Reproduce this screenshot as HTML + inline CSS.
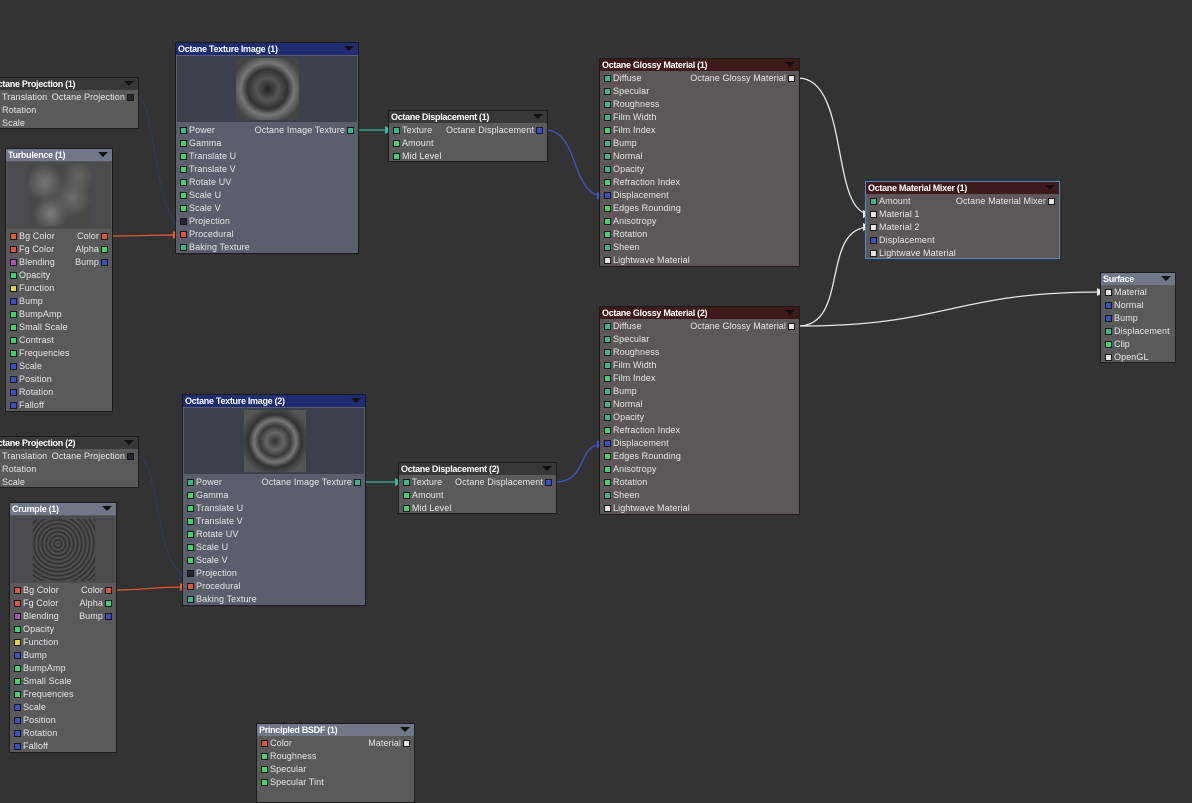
<!DOCTYPE html>
<html><head><meta charset="utf-8"><style>
*{margin:0;padding:0;box-sizing:border-box}
body{width:1192px;height:791px;background:#333334;overflow:hidden;position:relative;font-family:"Liberation Sans",sans-serif;font-size:9px;color:#e6e6e6}
.n{position:absolute;border:1px solid #1c1c1c;background:#5a5a5c}
.t{height:12px;line-height:12px;font-size:9px;font-weight:bold;padding-left:2px;color:#fff;white-space:nowrap;overflow:hidden;position:relative;letter-spacing:-0.3px}
.t:after{content:"";position:absolute;right:4px;top:3px;border-left:5px solid transparent;border-right:5px solid transparent;border-top:5px solid #111}
.rows{position:absolute;left:0;right:0}
.r{height:13px;line-height:13px;position:relative;padding-left:13px;white-space:nowrap;letter-spacing:0.1px}
.r i{position:absolute;left:4px;top:3px;width:7px;height:7px;border:1px solid #1a1a1a}
.r b{position:absolute;right:13px;top:0;font-weight:normal}
.r u{position:absolute;right:4px;top:3px;width:7px;height:7px;border:1px solid #1a1a1a}
.g{background:#3ab888}.G{background:#3fd56a}.R{background:#e0553c}.B{background:#3550c8}.W{background:#e4e4e4}.Y{background:#e2d23e}.P{background:#b04cc0}.K{background:#262630}
.tex{background:#5b5e6c}.tex .t{background:#1f2c73}
.gl{background:#5e5757}.gl .t{background:#3e1a1a}
.dk .t{background:#383838}
.gr .t{background:#6f7788}
.img{position:absolute;left:1px;right:1px;background:#3c3f4c}
.pv{position:absolute}
</style></head><body>
<svg width="1192" height="791" style="position:absolute;left:0;top:0">
<defs>
<marker id="aw" markerWidth="8" markerHeight="8" refX="7" refY="4" orient="auto" markerUnits="userSpaceOnUse"><path d="M0,0L8,4L0,8z" fill="#e8e8e8"/></marker>
<marker id="ar" markerWidth="8" markerHeight="8" refX="7" refY="4" orient="auto" markerUnits="userSpaceOnUse"><path d="M0,0L8,4L0,8z" fill="#ea5a30"/></marker>
<marker id="at" markerWidth="8" markerHeight="8" refX="7" refY="4" orient="auto" markerUnits="userSpaceOnUse"><path d="M0,0L8,4L0,8z" fill="#2fb89a"/></marker>
<marker id="ab" markerWidth="8" markerHeight="8" refX="7" refY="4" orient="auto" markerUnits="userSpaceOnUse"><path d="M0,0L8,4L0,8z" fill="#3a58c8"/></marker>
<marker id="ak" markerWidth="8" markerHeight="8" refX="7" refY="4" orient="auto" markerUnits="userSpaceOnUse"><path d="M0,0L8,4L0,8z" fill="#2e3a5c"/></marker>
</defs>
<g fill="none" stroke-width="1.3">
<path d="M137,96 C155,96 155,222 180,222" stroke="#2e3a5c" marker-end="url(#ak)"/>
<path d="M111,236 C140,236 150,235 180,235" stroke="#ea5a30" marker-end="url(#ar)"/>
<path d="M357,130 L392,130" stroke="#2fb89a" marker-end="url(#at)"/>
<path d="M545,130 C580,130 570,196 604,196" stroke="#3a58c8" marker-end="url(#ab)"/>
<path d="M798,78 C850,78 830,214 870,214" stroke="#e8e8e8" marker-end="url(#aw)"/>
<path d="M798,326 C850,326 820,227 870,227" stroke="#e8e8e8" marker-end="url(#aw)"/>
<path d="M798,326 C950,326 950,292 1104,292" stroke="#e8e8e8" marker-end="url(#aw)"/>
<path d="M137,456 C160,456 155,574 187,574" stroke="#2e3a5c" marker-end="url(#ak)"/>
<path d="M115,590 C145,590 150,587 187,587" stroke="#ea5a30" marker-end="url(#ar)"/>
<path d="M364,482 L402,482" stroke="#2fb89a" marker-end="url(#at)"/>
<path d="M554,482 C590,482 575,444 604,444" stroke="#3a58c8" marker-end="url(#ab)"/>
</g></svg>

<div class="n dk" style="left:-12px;top:77px;width:151px;height:52px"><div class="t">Octane Projection (1)</div>
<div class="rows" style="top:13px"><div class="r">Translation<b>Octane Projection</b><u class="K"></u></div><div class="r">Rotation</div><div class="r">Scale</div></div></div>

<div class="n gr" style="left:5px;top:148px;width:108px;height:264px"><div class="t">Turbulence (1)</div>
<div class="img" style="top:13px;height:67px;background:#4a4b4e"><div class="pv" style="left:22px;top:2px;width:62px;height:62px;background:radial-gradient(circle at 25% 30%,#777 0,transparent 30%),radial-gradient(circle at 70% 55%,#6e6e6e 0,transparent 35%),radial-gradient(circle at 35% 80%,#7c7c7c 0,transparent 28%),radial-gradient(circle at 80% 20%,#666 0,transparent 25%),#484848"></div></div>
<div class="rows" style="top:81px">
<div class="r"><i class="R"></i>Bg Color<b>Color</b><u class="R"></u></div>
<div class="r"><i class="R"></i>Fg Color<b>Alpha</b><u class="G"></u></div>
<div class="r"><i class="P"></i>Blending<b>Bump</b><u class="B"></u></div>
<div class="r"><i class="G"></i>Opacity</div>
<div class="r"><i class="Y"></i>Function</div>
<div class="r"><i class="B"></i>Bump</div>
<div class="r"><i class="G"></i>BumpAmp</div>
<div class="r"><i class="G"></i>Small Scale</div>
<div class="r"><i class="G"></i>Contrast</div>
<div class="r"><i class="G"></i>Frequencies</div>
<div class="r"><i class="B"></i>Scale</div>
<div class="r"><i class="B"></i>Position</div>
<div class="r"><i class="B"></i>Rotation</div>
<div class="r"><i class="B"></i>Falloff</div></div></div>

<div class="n tex" style="left:175px;top:42px;width:184px;height:212px"><div class="t">Octane Texture Image (1)</div>
<div class="img" style="top:13px;height:66px"><div class="pv" style="left:59px;top:2px;width:63px;height:62px;background:radial-gradient(ellipse at 50% 50%,#222 0,#555 25%,#333 45%,#777 60%,#444 80%),#555"></div></div>
<div class="rows" style="top:81px">
<div class="r"><i class="g"></i>Power<b>Octane Image Texture</b><u class="g"></u></div>
<div class="r"><i class="G"></i>Gamma</div>
<div class="r"><i class="G"></i>Translate U</div>
<div class="r"><i class="G"></i>Translate V</div>
<div class="r"><i class="G"></i>Rotate UV</div>
<div class="r"><i class="G"></i>Scale U</div>
<div class="r"><i class="G"></i>Scale V</div>
<div class="r"><i class="K"></i>Projection</div>
<div class="r"><i class="R"></i>Procedural</div>
<div class="r"><i class="g"></i>Baking Texture</div></div></div>

<div class="n dk" style="left:388px;top:110px;width:160px;height:52px"><div class="t">Octane Displacement (1)</div>
<div class="rows" style="top:13px"><div class="r"><i class="g"></i>Texture<b>Octane Displacement</b><u class="B"></u></div><div class="r"><i class="G"></i>Amount</div><div class="r"><i class="G"></i>Mid Level</div></div></div>

<div class="n gl" style="left:599px;top:58px;width:201px;height:209px"><div class="t">Octane Glossy Material (1)</div>
<div class="rows" style="top:13px">
<div class="r"><i class="g"></i>Diffuse<b>Octane Glossy Material</b><u class="W"></u></div>
<div class="r"><i class="g"></i>Specular</div><div class="r"><i class="g"></i>Roughness</div><div class="r"><i class="g"></i>Film Width</div><div class="r"><i class="G"></i>Film Index</div><div class="r"><i class="g"></i>Bump</div><div class="r"><i class="g"></i>Normal</div><div class="r"><i class="g"></i>Opacity</div><div class="r"><i class="G"></i>Refraction Index</div><div class="r"><i class="B"></i>Displacement</div><div class="r"><i class="G"></i>Edges Rounding</div><div class="r"><i class="G"></i>Anisotropy</div><div class="r"><i class="G"></i>Rotation</div><div class="r"><i class="g"></i>Sheen</div><div class="r"><i class="W"></i>Lightwave Material</div></div></div>

<div class="n gl" style="left:865px;top:181px;width:195px;height:78px;border-color:#4a8ad0"><div class="t">Octane Material Mixer (1)</div>
<div class="rows" style="top:13px">
<div class="r"><i class="g"></i>Amount<b>Octane Material Mixer</b><u class="W"></u></div>
<div class="r"><i class="W"></i>Material 1</div><div class="r"><i class="W"></i>Material 2</div><div class="r"><i class="B"></i>Displacement</div><div class="r"><i class="W"></i>Lightwave Material</div></div></div>

<div class="n gr" style="left:1100px;top:272px;width:76px;height:91px"><div class="t">Surface</div>
<div class="rows" style="top:13px">
<div class="r"><i class="W"></i>Material</div><div class="r"><i class="B"></i>Normal</div><div class="r"><i class="B"></i>Bump</div><div class="r"><i class="g"></i>Displacement</div><div class="r"><i class="G"></i>Clip</div><div class="r"><i class="W"></i>OpenGL</div></div></div>

<div class="n gl" style="left:599px;top:306px;width:201px;height:209px"><div class="t">Octane Glossy Material (2)</div>
<div class="rows" style="top:13px">
<div class="r"><i class="g"></i>Diffuse<b>Octane Glossy Material</b><u class="W"></u></div>
<div class="r"><i class="g"></i>Specular</div><div class="r"><i class="g"></i>Roughness</div><div class="r"><i class="g"></i>Film Width</div><div class="r"><i class="G"></i>Film Index</div><div class="r"><i class="g"></i>Bump</div><div class="r"><i class="g"></i>Normal</div><div class="r"><i class="g"></i>Opacity</div><div class="r"><i class="G"></i>Refraction Index</div><div class="r"><i class="B"></i>Displacement</div><div class="r"><i class="G"></i>Edges Rounding</div><div class="r"><i class="G"></i>Anisotropy</div><div class="r"><i class="G"></i>Rotation</div><div class="r"><i class="g"></i>Sheen</div><div class="r"><i class="W"></i>Lightwave Material</div></div></div>

<div class="n dk" style="left:-12px;top:436px;width:151px;height:52px"><div class="t">Octane Projection (2)</div>
<div class="rows" style="top:13px"><div class="r">Translation<b>Octane Projection</b><u class="K"></u></div><div class="r">Rotation</div><div class="r">Scale</div></div></div>

<div class="n tex" style="left:182px;top:394px;width:184px;height:212px"><div class="t">Octane Texture Image (2)</div>
<div class="img" style="top:13px;height:66px"><div class="pv" style="left:60px;top:2px;width:62px;height:62px;background:radial-gradient(circle at 50% 50%,#333 0,#666 20%,#3a3a3a 35%,#777 48%,#333 60%,#555 80%),#444"></div></div>
<div class="rows" style="top:81px">
<div class="r"><i class="g"></i>Power<b>Octane Image Texture</b><u class="g"></u></div>
<div class="r"><i class="G"></i>Gamma</div>
<div class="r"><i class="G"></i>Translate U</div>
<div class="r"><i class="G"></i>Translate V</div>
<div class="r"><i class="G"></i>Rotate UV</div>
<div class="r"><i class="G"></i>Scale U</div>
<div class="r"><i class="G"></i>Scale V</div>
<div class="r"><i class="K"></i>Projection</div>
<div class="r"><i class="R"></i>Procedural</div>
<div class="r"><i class="g"></i>Baking Texture</div></div></div>

<div class="n dk" style="left:398px;top:462px;width:159px;height:52px"><div class="t">Octane Displacement (2)</div>
<div class="rows" style="top:13px"><div class="r"><i class="g"></i>Texture<b>Octane Displacement</b><u class="B"></u></div><div class="r"><i class="G"></i>Amount</div><div class="r"><i class="G"></i>Mid Level</div></div></div>

<div class="n gr" style="left:9px;top:502px;width:108px;height:251px"><div class="t">Crumple (1)</div>
<div class="img" style="top:13px;height:67px;background:#4a4b4e"><div class="pv" style="left:22px;top:3px;width:62px;height:62px;background:repeating-radial-gradient(circle at 40% 40%,#333 0,#555 2px,#2a2a2a 4px),#444"></div></div>
<div class="rows" style="top:81px">
<div class="r"><i class="R"></i>Bg Color<b>Color</b><u class="R"></u></div>
<div class="r"><i class="R"></i>Fg Color<b>Alpha</b><u class="G"></u></div>
<div class="r"><i class="P"></i>Blending<b>Bump</b><u class="B"></u></div>
<div class="r"><i class="G"></i>Opacity</div>
<div class="r"><i class="Y"></i>Function</div>
<div class="r"><i class="B"></i>Bump</div>
<div class="r"><i class="G"></i>BumpAmp</div>
<div class="r"><i class="G"></i>Small Scale</div>
<div class="r"><i class="G"></i>Frequencies</div>
<div class="r"><i class="B"></i>Scale</div>
<div class="r"><i class="B"></i>Position</div>
<div class="r"><i class="B"></i>Rotation</div>
<div class="r"><i class="B"></i>Falloff</div></div></div>

<div class="n gr" style="left:256px;top:723px;width:159px;height:80px"><div class="t">Principled BSDF (1)</div>
<div class="rows" style="top:13px">
<div class="r"><i class="R"></i>Color<b>Material</b><u class="W"></u></div>
<div class="r"><i class="G"></i>Roughness</div><div class="r"><i class="G"></i>Specular</div><div class="r"><i class="G"></i>Specular Tint</div></div></div>
</body></html>
